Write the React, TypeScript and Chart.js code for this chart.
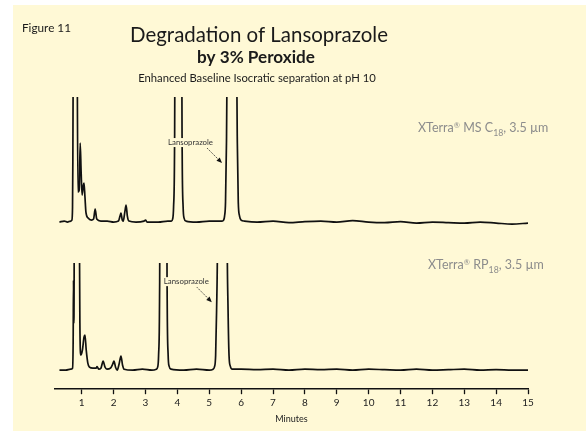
import React, { useEffect, useRef } from "react";
import { Chart, registerables } from "chart.js";

Chart.register(...registerables);

// Tick labels on the time axis (minutes)
const minuteTicks: number[] = [1, 2, 3, 4, 5, 6, 7, 8, 9, 10, 11, 12, 13, 14, 15];

// Chromatogram 1: XTerra MS C18 (time in min, response in AU)
const msC18Trace: [number, number][] = [
  [0.30, 0.00], [0.45, 0.01], [0.55, 0.00], [0.65, 0.01], [0.69, 0.02],
  [0.71, 0.15], [0.72, 0.6], [0.73, 1.5], [0.76, 6], [0.80, 8], [0.84, 5],
  [0.86, 1.5], [0.88, 0.30], [0.92, 0.32], [0.95, 0.79], [0.98, 0.5],
  [1.01, 0.27], [1.05, 0.37], [1.07, 0.39], [1.10, 0.25], [1.13, 0.10],
  [1.20, 0.04], [1.30, 0.02], [1.37, 0.03], [1.42, 0.13], [1.47, 0.03],
  [1.60, 0.01], [1.80, 0.01], [2.00, 0.00], [2.15, 0.01], [2.20, 0.06],
  [2.23, 0.09], [2.27, 0.02], [2.30, 0.01], [2.35, 0.10], [2.39, 0.17],
  [2.43, 0.06], [2.48, 0.01], [2.70, 0.00], [2.95, 0.01], [3.00, 0.02],
  [3.05, 0.00], [3.40, 0.00], [3.70, 0.01], [3.81, 0.01], [3.85, 0.03],
  [3.88, 0.15], [3.91, 0.7], [3.93, 2.5], [3.98, 20], [4.03, 50], [4.08, 20],
  [4.13, 2.5], [4.15, 0.7], [4.18, 0.15], [4.21, 0.04], [4.27, 0.01],
  [4.60, 0.00], [5.00, 0.01], [5.40, 0.01], [5.45, 0.02], [5.48, 0.06],
  [5.51, 0.2], [5.54, 0.8], [5.56, 1.6], [5.61, 6], [5.71, 30], [5.81, 6],
  [5.86, 1.6], [5.88, 0.8], [5.91, 0.2], [5.95, 0.06], [6.00, 0.02],
  [6.10, 0.01], [6.50, 0.00], [7.00, 0.01], [7.50, -0.005], [8.00, 0.005],
  [8.50, 0.01], [9.00, 0.00], [9.50, 0.015], [10.00, 0.00], [10.50, -0.005],
  [11.00, 0.005], [11.50, -0.01], [12.00, 0.00], [12.50, -0.005],
  [13.00, -0.01], [13.50, 0.00], [14.00, -0.01], [14.50, -0.02], [15.00, -0.01],
];

// Chromatogram 2: XTerra RP18 (time in min, response in AU)
const rp18Trace: [number, number][] = [
  [0.30, 0.00], [0.50, 0.00], [0.65, 0.01], [0.71, 0.02], [0.73, 0.3],
  [0.74, 0.9], [0.75, 0.47], [0.76, 0.9], [0.78, 5], [0.84, 8], [0.90, 3],
  [0.94, 0.5], [0.97, 0.15], [1.02, 0.20], [1.07, 0.33], [1.10, 0.35],
  [1.14, 0.2], [1.19, 0.07], [1.24, 0.03], [1.35, 0.02], [1.45, 0.02],
  [1.48, 0.035], [1.53, 0.01], [1.60, 0.02], [1.67, 0.09], [1.73, 0.03],
  [1.79, 0.01], [1.90, 0.02], [1.97, 0.06], [2.01, 0.09], [2.06, 0.03],
  [2.11, 0.00], [2.17, 0.06], [2.23, 0.14], [2.28, 0.05], [2.33, 0.01],
  [2.60, 0.00], [2.90, 0.01], [3.20, 0.00], [3.34, 0.01], [3.38, 0.03],
  [3.41, 0.15], [3.44, 0.7], [3.46, 2.5], [3.51, 20], [3.56, 50], [3.61, 20],
  [3.66, 2.5], [3.68, 0.7], [3.71, 0.15], [3.74, 0.04], [3.80, 0.01],
  [4.20, 0.00], [4.60, 0.01], [5.00, 0.00], [5.12, 0.01], [5.16, 0.03],
  [5.20, 0.15], [5.23, 0.6], [5.26, 1.4], [5.31, 6], [5.41, 30], [5.51, 6],
  [5.56, 1.4], [5.59, 0.6], [5.62, 0.15], [5.66, 0.04], [5.72, 0.01],
  [6.00, 0.01], [6.50, 0.005], [7.00, 0.01], [7.50, 0.00], [8.00, 0.01],
  [8.50, 0.005], [9.00, 0.01], [9.50, 0.00], [10.00, 0.01], [10.50, 0.005],
  [11.00, 0.00], [11.50, 0.01], [12.00, 0.00], [12.50, 0.005], [13.00, 0.01],
  [13.50, 0.00], [14.00, 0.005], [14.50, 0.00], [15.00, 0.00],
];

const FONT = "Lato, 'Open Sans', sans-serif";
const CREAM = "#fff9d6";

function setFitFont(ctx: CanvasRenderingContext2D, text: string, width: number, weight: string) {
  ctx.font = `${weight} 20px ${FONT}`;
  const w = ctx.measureText(text).width;
  const size = (20 * width) / w;
  ctx.font = `${weight} ${size.toFixed(2)}px ${FONT}`;
  return size;
}

function drawSubLabel(
  ctx: CanvasRenderingContext2D,
  parts: { t: string; kind: "n" | "sub" | "sup" }[],
  x: number,
  y: number,
  size: number,
  color: string
) {
  ctx.fillStyle = color;
  ctx.textAlign = "left";
  let cx = x;
  for (const p of parts) {
    if (p.kind === "n") {
      ctx.font = `${size}px ${FONT}`;
      ctx.fillText(p.t, cx, y);
    } else if (p.kind === "sub") {
      ctx.font = `${size * 0.7}px ${FONT}`;
      ctx.fillText(p.t, cx, y + size * 0.3);
    } else {
      ctx.font = `${size * 0.6}px ${FONT}`;
      ctx.fillText(p.t, cx, y - size * 0.35);
    }
    cx += ctx.measureText(p.t).width;
  }
}

function drawArrow(ctx: CanvasRenderingContext2D, x0: number, y0: number, x1: number, y1: number) {
  ctx.save();
  ctx.strokeStyle = "#222";
  ctx.fillStyle = "#111";
  ctx.lineWidth = 0.8;
  ctx.setLineDash([1.5, 1]);
  const ang = Math.atan2(y1 - y0, x1 - x0);
  const hl = 6;
  ctx.beginPath();
  ctx.moveTo(x0, y0);
  ctx.lineTo(x1 - Math.cos(ang) * hl * 0.8, y1 - Math.sin(ang) * hl * 0.8);
  ctx.stroke();
  ctx.setLineDash([]);
  ctx.beginPath();
  ctx.moveTo(x1, y1);
  ctx.lineTo(x1 - hl * Math.cos(ang - 0.4), y1 - hl * Math.sin(ang - 0.4));
  ctx.lineTo(x1 - hl * Math.cos(ang + 0.4), y1 - hl * Math.sin(ang + 0.4));
  ctx.closePath();
  ctx.fill();
  ctx.restore();
}

function drawBoxedLabel(ctx: CanvasRenderingContext2D, text: string, x: number, y: number) {
  const w = ctx.measureText(text).width;
  ctx.save();
  ctx.fillStyle = CREAM;
  ctx.fillRect(x - 1, y - 7, w + 2, 9);
  ctx.restore();
  ctx.fillText(text, x, y);
}

const backgroundPlugin = {
  id: "figureBackground",
  beforeDraw(chart: any) {
    const { ctx, width, height } = chart;
    ctx.save();
    ctx.fillStyle = "#ffffff";
    ctx.fillRect(0, 0, width, height);
    ctx.fillStyle = CREAM;
    ctx.fillRect(13, 5, width - 13, height - 5);
    ctx.restore();
  },
};

const panelClipPlugin = {
  id: "panelClip",
  beforeDatasetDraw(chart: any, args: any) {
    const { ctx, chartArea } = chart;
    const ys = args.meta.yScale;
    ctx.save();
    ctx.beginPath();
    ctx.rect(chartArea.left - 2, ys.top, chartArea.right - chartArea.left + 4, ys.bottom - ys.top);
    ctx.clip();
  },
  afterDatasetDraw(chart: any) {
    chart.ctx.restore();
  },
};

const annotationPlugin = {
  id: "figureText",
  afterDraw(chart: any) {
    const { ctx } = chart;
    const xs = chart.scales.x;
    const yT = chart.scales.yTop;
    const yB = chart.scales.yBottom;
    ctx.save();
    ctx.textBaseline = "alphabetic";
    ctx.fillStyle = "#1a1a1a";

    ctx.textAlign = "left";
    setFitFont(ctx, "Figure 11", 49, "normal");
    ctx.fillText("Figure 11", 22, 32);

    ctx.textAlign = "center";
    setFitFont(ctx, "Degradation of Lansoprazole", 258, "normal");
    ctx.fillText("Degradation of Lansoprazole", 259, 42);

    setFitFont(ctx, "by 3% Peroxide", 118, "bold");
    ctx.fillText("by 3% Peroxide", 256, 63);

    setFitFont(ctx, "Enhanced Baseline Isocratic separation at pH 10", 238, "normal");
    ctx.fillText("Enhanced Baseline Isocratic separation at pH 10", 257, 82);

    // column labels
    drawSubLabel(
      ctx,
      [
        { t: "XTerra", kind: "n" },
        { t: "®", kind: "sup" },
        { t: " MS C", kind: "n" },
        { t: "18", kind: "sub" },
        { t: ", 3.5 µm", kind: "n" },
      ],
      418,
      132,
      12.5,
      "#8c8c8c"
    );
    drawSubLabel(
      ctx,
      [
        { t: "XTerra", kind: "n" },
        { t: "®", kind: "sup" },
        { t: " RP", kind: "n" },
        { t: "18", kind: "sub" },
        { t: ", 3.5 µm", kind: "n" },
      ],
      428,
      269,
      12.5,
      "#8c8c8c"
    );

    // Lansoprazole call-outs, anchored to the peaks' positions
    ctx.fillStyle = "#333";
    ctx.textAlign = "left";
    const tipT = { x: xs.getPixelForValue(5.4), y: yT.getPixelForValue(0.59) };
    setFitFont(ctx, "Lansoprazole", 45, "normal");
    drawBoxedLabel(ctx, "Lansoprazole", tipT.x - 54, tipT.y - 18);
    drawArrow(ctx, tipT.x - 15, tipT.y - 15, tipT.x, tipT.y);

    const tipB = { x: xs.getPixelForValue(5.08), y: yB.getPixelForValue(0.68) };
    drawBoxedLabel(ctx, "Lansoprazole", tipB.x - 48, tipB.y - 18);
    drawArrow(ctx, tipB.x - 15, tipB.y - 15, tipB.x, tipB.y);

    ctx.restore();
  },
};

export default function App() {
  const canvasRef = useRef<HTMLCanvasElement | null>(null);

  useEffect(() => {
    const canvas = canvasRef.current;
    if (!canvas) return;
    const lineStyle = {
      borderColor: "#111111",
      borderWidth: 1.7,
      pointRadius: 0,
      fill: false,
      cubicInterpolationMode: "monotone" as const,
    };
    const chart = new Chart(canvas, {
      type: "line",
      data: {
        datasets: [
          {
            label: "XTerra® MS C18, 3.5 µm",
            data: msC18Trace.map(([x, y]) => ({ x, y })),
            yAxisID: "yTop",
            ...lineStyle,
          },
          {
            label: "XTerra® RP18, 3.5 µm",
            data: rp18Trace.map(([x, y]) => ({ x, y })),
            yAxisID: "yBottom",
            ...lineStyle,
          },
        ],
      },
      options: {
        animation: false,
        responsive: false,
        devicePixelRatio: 1,
        layout: { padding: { left: 55, right: 58, top: 97, bottom: 7 } },
        plugins: {
          legend: { display: false },
          tooltip: { enabled: false },
          title: { display: false },
        },
        scales: {
          x: {
            type: "linear",
            min: 0.16,
            max: 15,
            afterBuildTicks: (scale: any) => {
              scale.ticks = minuteTicks.map((v) => ({ value: v }));
            },
            ticks: {
              autoSkip: false,
              maxRotation: 0,
              padding: 3,
              color: "#222",
              font: { family: FONT, size: 10 },
              callback: (v: any) => String(v),
            },
            grid: {
              drawOnChartArea: false,
              drawTicks: true,
              tickLength: 5,
              tickColor: "#111",
              tickWidth: 1.3,
            },
            border: { display: true, color: "#111", width: 1.5 },
            title: {
              display: true,
              text: "Minutes",
              color: "#222",
              font: { family: FONT, size: 9 },
              padding: { top: 1, bottom: 0 },
            },
          },
          yBottom: {
            type: "linear",
            position: "left",
            stack: "traces",
            stackWeight: 126,
            min: -0.19,
            max: 1.07,
            display: false,
          },
          yTop: {
            type: "linear",
            position: "left",
            stack: "traces",
            stackWeight: 166,
            min: -0.41,
            max: 1.25,
            display: false,
          },
        },
      } as any,
      plugins: [backgroundPlugin, panelClipPlugin, annotationPlugin],
    });
    return () => chart.destroy();
  }, []);

  return (
    <div style={{ position: "fixed", left: 0, top: 0, width: 586, height: 431 }}>
      <canvas ref={canvasRef} width={586} height={431} style={{ display: "block" }} />
    </div>
  );
}
